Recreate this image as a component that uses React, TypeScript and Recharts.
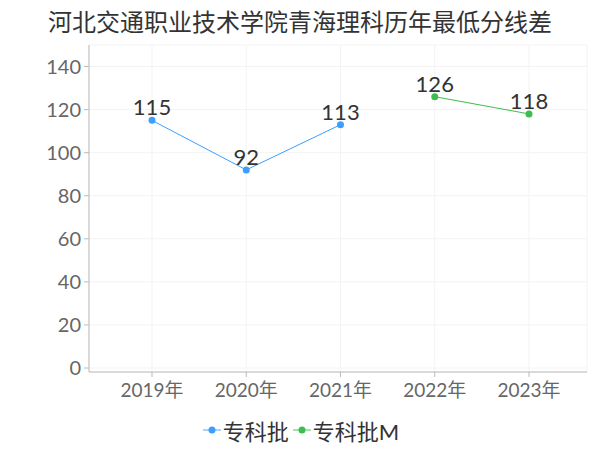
import React from 'react';
import { LineChart, Line, XAxis, YAxis, CartesianGrid, LabelList } from 'recharts';

const years = ['2019年', '2020年', '2021年', '2022年', '2023年'];
const zhuanke = [115, 92, 113, null, null];
const zhuankeM = [null, null, null, 126, 118];
const yTicks = [0, 20, 40, 60, 80, 100, 120, 140];

const BLUE = '#3d9eff';
const GREEN = '#3dbd4f';
const FONT = "Lato, 'Noto Sans CJK SC', sans-serif";

const data = years.map((y, i) => ({ year: y, a: zhuanke[i], m: zhuankeM[i] }));

const LegendItem: React.FC<{ color: string; label: string }> = ({ color, label }) => (
  <div style={{ display: 'flex', alignItems: 'center', marginRight: 4 }}>
    <svg width={18} height={10}>
      <line x1={0} y1={5} x2={18} y2={5} stroke={color} strokeWidth={1.5} opacity={0.6} />
      <circle cx={9} cy={5} r={3.5} fill={color} />
    </svg>
    <span style={{ fontSize: 22, color: '#333', marginLeft: 2 }}>{label}</span>
  </div>
);

const App: React.FC = () => {
  return (
    <div style={{ position: 'absolute', left: 0, top: 0, width: 600, height: 450, background: '#fff', fontFamily: FONT }}>
      {/* Title */}
      <div style={{ position: 'absolute', top: 3, left: 0, width: 600, textAlign: 'center', fontSize: 24, color: '#333' }}>
        河北交通职业技术学院青海理科历年最低分线差
      </div>
      <LineChart width={600} height={450} data={data} margin={{ top: 45, right: 13, bottom: 38, left: 0 }}>
        <CartesianGrid stroke="#f3f3f3" />
        <XAxis
          dataKey="year"
          padding={{ left: 63, right: 58 }}
          stroke="#bbb"
          tick={{ fill: '#666', fontSize: 19, fontFamily: FONT }}
          tickSize={5}
          tickMargin={7}
          height={40}
        />
        <YAxis
          domain={[0, 150]}
          ticks={yTicks}
          width={89}
          stroke="#bbb"
          padding={{ bottom: 4 }}
          tick={{ fill: '#666', fontSize: 20, fontFamily: FONT }}
          tickSize={5}
          tickMargin={3}
        />
        <Line dataKey="a" stroke={BLUE} strokeWidth={1} dot={{ r: 3.5, fill: BLUE, stroke: BLUE, strokeWidth: 0 }} isAnimationActive={false}>
          <LabelList dataKey="a" position="top" offset={5} fill="#333" fontSize={22} fontFamily={FONT} />
        </Line>
        <Line dataKey="m" stroke={GREEN} strokeWidth={1} dot={{ r: 3.5, fill: GREEN, stroke: GREEN, strokeWidth: 0 }} isAnimationActive={false}>
          <LabelList dataKey="m" position="top" offset={5} fill="#333" fontSize={22} fontFamily={FONT} />
        </Line>
      </LineChart>
      {/* Legend */}
      <div style={{ position: 'absolute', top: 414, left: 0, width: 600, display: 'flex', justifyContent: 'center' }}>
        <div style={{ display: 'flex', marginLeft: 6 }}>
          <LegendItem color={BLUE} label="专科批" />
          <LegendItem color={GREEN} label="专科批M" />
        </div>
      </div>
    </div>
  );
};

export default App;
